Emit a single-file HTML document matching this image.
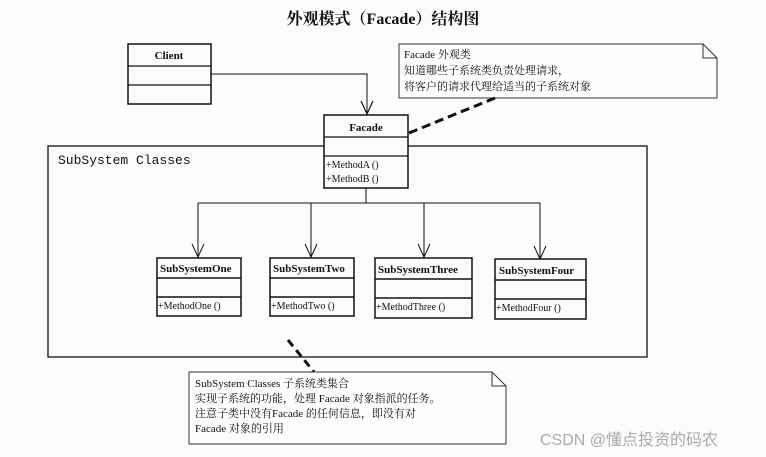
<!DOCTYPE html>
<html><head><meta charset="utf-8"><style>
body{margin:0;width:766px;height:457px;background:#fcfcfc;overflow:hidden}
svg{display:block}
text{font-family:"Liberation Serif","Noto Serif CJK SC",serif;fill:#111}
</style></head><body>
<svg width="766" height="457" viewBox="0 0 766 457">
<text x="383" y="24" text-anchor="middle" font-size="16" font-weight="bold">外观模式（Facade）结构图</text>
<!-- Client -->
<rect x="128" y="44" width="83" height="60" fill="none" stroke="#111" stroke-width="1.5"/>
<line x1="128" y1="66" x2="211" y2="66" stroke="#111" stroke-width="1.3"/>
<line x1="128" y1="85" x2="211" y2="85" stroke="#111" stroke-width="1.3"/>
<text x="169" y="59" text-anchor="middle" font-size="11" font-weight="bold">Client</text>
<polyline points="211,74 367,74 367,114" fill="none" stroke="#111" stroke-width="1"/>
<path d="M361,101 L367,114 L373,101" fill="none" stroke="#111" stroke-width="1.2"/>
<!-- Note1 -->
<path d="M399,44 L703,44 L717,58 L717,98 L399,98 Z M703,44 L703,58 L717,58" fill="#fdfdfd" stroke="#333" stroke-width="1"/>
<text x="404" y="58" font-size="11">Facade  外观类</text>
<text x="404" y="74" font-size="11">知道哪些子系统类负责处理请求，</text>
<text x="404" y="90" font-size="11">将客户的请求代理给适当的子系统对象</text>
<line x1="409" y1="133" x2="495" y2="98" stroke="#111" stroke-width="3" stroke-dasharray="9,5"/>
<!-- frame -->
<rect x="48" y="146" width="599" height="211" fill="none" stroke="#111" stroke-width="1.3"/>
<text x="58" y="164" font-size="13" style="font-family:'Liberation Mono',monospace">SubSystem Classes</text>
<!-- Facade -->
<rect x="324" y="115" width="84" height="73" fill="#fcfcfc" stroke="#111" stroke-width="1.5"/>
<line x1="324" y1="137" x2="408" y2="137" stroke="#111" stroke-width="1.3"/>
<line x1="324" y1="156" x2="408" y2="156" stroke="#111" stroke-width="1.3"/>
<text x="366" y="131" text-anchor="middle" font-size="11" font-weight="bold">Facade</text>
<text x="326" y="168" font-size="10">+MethodA ()</text>
<text x="326" y="182" font-size="10">+MethodB ()</text>
<!-- branches -->
<g stroke="#111" stroke-width="1" fill="none">
<line x1="366" y1="188" x2="366" y2="203"/>
<line x1="198" y1="203" x2="540" y2="203"/>
<line x1="198" y1="203" x2="198" y2="257"/><path d="M192,244 L198,257 L204,244"/>
<line x1="311" y1="203" x2="311" y2="257"/><path d="M305,244 L311,257 L317,244"/>
<line x1="424" y1="203" x2="424" y2="257"/><path d="M418,244 L424,257 L430,244"/>
<line x1="540" y1="203" x2="540" y2="259"/><path d="M534,246 L540,259 L546,246"/>
</g>
<g stroke="#111" stroke-width="1.5" fill="none">
<rect x="157" y="258" width="84" height="58"/><line x1="157" y1="278" x2="241" y2="278"/><line x1="157" y1="297" x2="241" y2="297"/>
<rect x="270" y="258" width="84" height="58"/><line x1="270" y1="278" x2="354" y2="278"/><line x1="270" y1="297" x2="354" y2="297"/>
<rect x="375" y="258" width="97" height="60"/><line x1="375" y1="279" x2="472" y2="279"/><line x1="375" y1="298" x2="472" y2="298"/>
<rect x="495" y="259" width="91" height="60"/><line x1="495" y1="280" x2="586" y2="280"/><line x1="495" y1="299" x2="586" y2="299"/>
</g>
<g font-size="11" font-weight="bold">
<text x="160" y="272">SubSystemOne</text>
<text x="273" y="272">SubSystemTwo</text>
<text x="378" y="273">SubSystemThree</text>
<text x="499" y="274">SubSystemFour</text>
</g>
<g font-size="10">
<text x="158" y="309">+MethodOne ()</text>
<text x="271" y="309">+MethodTwo ()</text>
<text x="376" y="310">+MethodThree ()</text>
<text x="496" y="311">+MethodFour ()</text>
</g>
<line x1="288" y1="340" x2="314" y2="372" stroke="#111" stroke-width="3" stroke-dasharray="8,5"/>
<!-- Note2 -->
<path d="M189,372 L492,372 L506,386 L506,444 L189,444 Z M492,372 L492,386 L506,386" fill="#fdfdfd" stroke="#333" stroke-width="1"/>
<text x="195" y="387" font-size="11">SubSystem Classes   子系统类集合</text>
<text x="195" y="402" font-size="11">实现子系统的功能，处理 Facade 对象指派的任务。</text>
<text x="195" y="417" font-size="11">注意子类中没有Facade 的任何信息，即没有对</text>
<text x="195" y="432" font-size="11">Facade 对象的引用</text>
<text x="540" y="445" font-size="16" style="fill:#aaa;font-family:'Liberation Sans','Noto Sans CJK SC',sans-serif">CSDN @懂点投资的码农</text>
</svg>
</body></html>
